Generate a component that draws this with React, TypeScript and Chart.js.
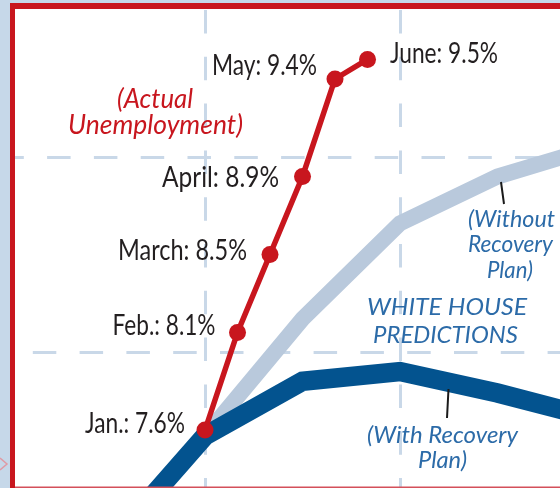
import React, { useEffect, useRef } from "react";
import { Chart, registerables } from "chart.js";

Chart.register(...registerables);

// Months relative to January 2009 (quarterly predictions)
const predictionMonths = [-3, 0, 3, 6, 9, 12];
const withPlan = [7.0, 7.57, 7.85, 7.9, 7.79, 7.66];
const withoutPlan = [7.0, 7.57, 8.17, 8.66, 8.9, 9.05];

// Actual unemployment, monthly
const actualMonths = [0, 1, 2, 3, 4, 5];
const actualNames = ["Jan.", "Feb.", "March", "April", "May", "June"];
const actualRate = [7.6, 8.1, 8.5, 8.9, 9.4, 9.5];

// Grid positions
const gridMonths = [0, 6];
const gridRates = [8, 9];

// label layout: [side, dx, dy, width]
const labelLayout: [string, number, number, number][] = [
  ["right", -20, 2.5, 100],
  ["right", -22, 2.5, 103],
  ["right", -23, 5.5, 129],
  ["right", -23.5, 10.5, 117],
  ["right", -18, -4, 105],
  ["left", 22.5, 3.5, 108],
];

const RED = "#c8161e";
const DARK = "#03538f";
const LIGHT = "#b9c9dc";
const GRID = "#c9d8e8";
const BLUE_TEXT = "#2c6ba8";
const INK = "#231f20";
const FONT = "Lato, 'Open Sans', sans-serif";

function fitText(
  ctx: CanvasRenderingContext2D,
  text: string,
  x: number,
  y: number,
  width: number,
  font: string,
  color: string,
  align: string
) {
  ctx.save();
  ctx.font = font;
  ctx.fillStyle = color;
  ctx.textAlign = "left";
  ctx.textBaseline = "alphabetic";
  const w = ctx.measureText(text).width;
  const s = width / w;
  const x0 = align === "right" ? x - width : align === "center" ? x - width / 2 : x;
  ctx.translate(x0, y);
  ctx.scale(s, 1);
  ctx.fillText(text, 0, 0);
  ctx.restore();
}

const decorPlugin = {
  id: "decor",
  beforeDraw(chart: any) {
    const ctx = chart.ctx;
    ctx.save();
    ctx.fillStyle = "#ffffff";
    ctx.fillRect(0, 0, chart.width, chart.height);
    ctx.restore();
  },
  beforeDatasetsDraw(chart: any) {
    const ctx = chart.ctx;
    const xs = chart.scales.x;
    const ys = chart.scales.y;
    ctx.save();
    ctx.strokeStyle = GRID;
    ctx.lineWidth = 3;
    ctx.setLineDash([23.5, 23.3]);
    gridMonths.forEach((m) => {
      const px = Math.round(xs.getPixelForValue(m)) + 0.5;
      ctx.beginPath();
      ctx.moveTo(px, 10);
      ctx.lineTo(px, chart.height);
      ctx.stroke();
    });
    const phases = [33 - 47, 0.5 - 47];
    gridRates.forEach((v, i) => {
      const py = Math.round(ys.getPixelForValue(v)) + 0.5;
      ctx.beginPath();
      ctx.moveTo(phases[i], py);
      ctx.lineTo(chart.width, py);
      ctx.stroke();
    });
    ctx.restore();
  },
  afterDatasetsDraw(chart: any) {
    const ctx = chart.ctx;
    const xs = chart.scales.x;
    const ys = chart.scales.y;
    // actual labels
    actualMonths.forEach((m, i) => {
      const px = xs.getPixelForValue(m);
      const py = ys.getPixelForValue(actualRate[i]);
      const [side, dx, dy, w] = labelLayout[i];
      fitText(
        ctx,
        `${actualNames[i]}: ${actualRate[i]}%`,
        px + dx,
        py + dy,
        w,
        `400 28px ${FONT}`,
        INK,
        side
      );
    });
    // red caption
    fitText(ctx, "(Actual", 117, 108, 76, `italic 400 27px ${FONT}`, RED, "left");
    fitText(ctx, "Unemployment)", 68, 134, 175, `italic 400 27px ${FONT}`, RED, "left");
    // blue captions
    fitText(ctx, "WHITE HOUSE", 367, 315, 160, `italic 400 24px ${FONT}`, BLUE_TEXT, "left");
    fitText(ctx, "PREDICTIONS", 373, 343, 145, `italic 400 24px ${FONT}`, BLUE_TEXT, "left");
    fitText(ctx, "(Without", 468, 227, 87, `italic 400 22.5px ${FONT}`, BLUE_TEXT, "left");
    fitText(ctx, "Recovery", 468, 252, 85, `italic 400 22.5px ${FONT}`, BLUE_TEXT, "left");
    fitText(ctx, "Plan)", 487, 278, 46, `italic 400 22.5px ${FONT}`, BLUE_TEXT, "left");
    fitText(ctx, "(With Recovery", 367, 443, 151, `italic 400 22.5px ${FONT}`, BLUE_TEXT, "left");
    fitText(ctx, "Plan)", 418, 468, 49, `italic 400 22.5px ${FONT}`, BLUE_TEXT, "left");
    // leader ticks
    ctx.save();
    ctx.strokeStyle = "#1a1a1a";
    ctx.lineWidth = 2;
    ctx.beginPath();
    ctx.moveTo(501, 182);
    ctx.lineTo(504, 204);
    ctx.moveTo(448.5, 389);
    ctx.lineTo(447, 418);
    ctx.stroke();
    ctx.restore();
  },
  afterDraw(chart: any) {
    const ctx = chart.ctx;
    ctx.save();
    ctx.fillStyle = "#c6d8e9";
    ctx.fillRect(0, 0, chart.width, 3);
    ctx.fillRect(0, 0, 10, chart.height);
    ctx.fillStyle = RED;
    ctx.fillRect(10, 3, chart.width - 10, 6);
    ctx.fillRect(10, 3, 5, chart.height - 3);
    ctx.fillStyle = "#d4505a";
    ctx.fillRect(15, 486.5, chart.width - 15, 1.5);
    ctx.strokeStyle = "#e09aa4";
    ctx.lineWidth = 1.5;
    ctx.beginPath();
    ctx.moveTo(0, 458);
    ctx.lineTo(7, 464);
    ctx.lineTo(0, 470);
    ctx.stroke();
    ctx.restore();
  },
};

export default function App() {
  const ref = useRef<HTMLCanvasElement | null>(null);
  useEffect(() => {
    if (!ref.current) return;
    const chart = new Chart(ref.current, {
      type: "line",
      data: {
        datasets: [
          {
            label: "Actual Unemployment",
            data: actualMonths.map((m, i) => ({ x: m, y: actualRate[i] })),
            borderColor: RED,
            backgroundColor: RED,
            borderWidth: 5.5,
            pointRadius: 8.5,
            pointBorderWidth: 0,
            pointBackgroundColor: RED,
            tension: 0,
            order: 0,
          },
          {
            label: "With Recovery Plan",
            data: predictionMonths.map((m, i) => ({ x: m, y: withPlan[i] })),
            borderColor: DARK,
            borderWidth: 19.5,
            pointRadius: 0,
            tension: 0,
            order: 1,
          },
          {
            label: "Without Recovery Plan",
            data: predictionMonths.map((m, i) => ({ x: m, y: withoutPlan[i] })),
            borderColor: LIGHT,
            borderWidth: 16,
            pointRadius: 0,
            tension: 0,
            order: 2,
          },
        ],
      },
      options: {
        animation: false,
        responsive: false,
        events: [],
        layout: { padding: 0, autoPadding: false },
        plugins: { legend: { display: false }, tooltip: { enabled: false } },
        scales: {
          x: { type: "linear", display: false, min: -6.308, max: 10.923 },
          y: { type: "linear", display: false, min: 7.3026, max: 9.805 },
        },
      },
      plugins: [decorPlugin],
    });
    return () => chart.destroy();
  }, []);
  return (
    <div style={{ position: "fixed", left: 0, top: 0, width: 560, height: 488 }}>
      <canvas ref={ref} width={560} height={488} style={{ display: "block" }} />
    </div>
  );
}
